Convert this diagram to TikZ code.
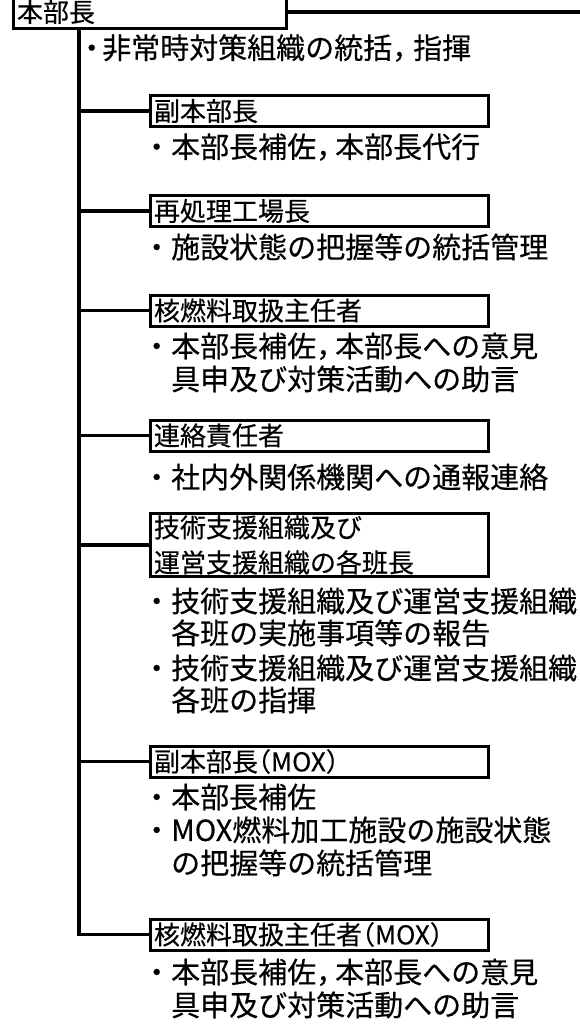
\documentclass[tikz,border=0pt]{standalone}
\usepackage{fontspec}
\setmainfont{Noto Sans CJK JP}[FakeBold=0.4]
\begin{document}
\begin{tikzpicture}[x=1pt,y=-1pt,
  box/.style={draw, line width=3pt, rectangle, inner xsep=4pt, inner ysep=0pt,
    minimum height=31pt, text width=330pt, align=left, anchor=west,
    font=\fontsize{26}{35}\selectfont},
  desc/.style={anchor=west, inner sep=0pt, align=left,
    font=\fontsize{29}{33}\selectfont},
  conn/.style={line width=3.5pt}]
\useasboundingbox (0,0) rectangle (580,1026);
% head box
\node[box, text width=265pt, minimum height=33pt] (hq) at (11.5,12) {本部長};
\node[desc] (a0) at (77,48) {・\kern-4pt 非常時対策組織の統括，\kern-8pt 指揮};
% sub boxes
\node[box] (b1) at (148.5,111) {副本部長};
\node[box] (b2) at (148.5,211) {再処理工場長};
\node[box] (b3) at (148.5,310.5) {核燃料取扱主任者};
\node[box] (b4) at (148.5,435.5) {連絡責任者};
\node[box, minimum height=63pt] (b5) at (148.5,545) {技術支援組織及び\\運営支援組織の各班長};
\node[box] (b6) at (148.5,761.5) {副本部長\kern-13pt（MOX）};
\node[box] (b7) at (148.5,934.5) {核燃料取扱主任者\kern-13pt（MOX）};
% descriptions
\node[desc] (a1) at (142,147) {・本部長補佐，\kern-10pt 本部長代行};
\node[desc] (a2) at (142,247) {・施設状態の把握等の統括管理};
\node[desc] (a3) at (142,362.5) {・本部長補佐，\kern-10pt 本部長への意見\\　具申及び対策活動への助言};
\node[desc] (a4) at (142,477) {・社内外関係機関への通報連絡};
\node[desc, font=\fontsize{29}{32}\selectfont] (a5) at (142,650.5) {・技術支援組織及び運営支援組織\\　各班の実施事項等の報告\\[3pt]・技術支援組織及び運営支援組織\\　各班の指揮};
\node[desc] (a6) at (142,830) {・本部長補佐\\・MOX燃料加工施設の施設状態\\　の把握等の統括管理};
\node[desc] (a7) at (142,988.5) {・本部長補佐，\kern-10pt 本部長への意見\\　具申及び対策活動への助言};
% connectors
\coordinate (tk) at (79,0);
\coordinate (re) at (580,0);
\draw[conn] (hq.east) -- (hq.east -| re);
\draw[conn] (hq.south -| tk) |- (b7.west);
\foreach \b in {b1,b2,b3,b4,b5,b6} \draw[conn] (\b.west) -- (\b.west -| tk);
\end{tikzpicture}
\end{document}
